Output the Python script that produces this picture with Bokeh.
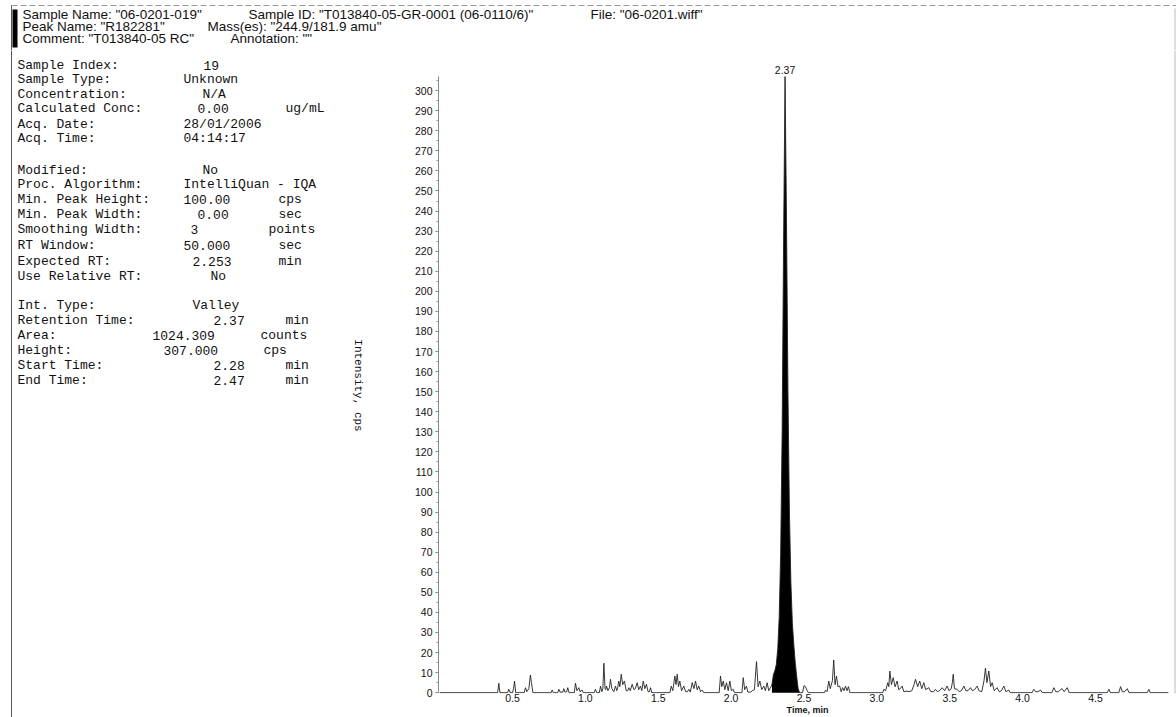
import math

from bokeh.core.properties import value
from bokeh.embed import file_html
from bokeh.layouts import column, row
from bokeh.models import (ColumnDataSource, FixedTicker, Plot, PrintfTickFormatter,
                          Range1d, SingleIntervalTicker, Span)
from bokeh.plotting import figure
from bokeh.resources import INLINE

# ---------------------------------------------------------------- header data
header_line1 = ['Sample Name: "06-0201-019"',
                'Sample ID: "T013840-05-GR-0001 (06-0110/6)"',
                'File: "06-0201.wiff"']
header_line2 = ['Peak Name: "R182281"', 'Mass(es): "244.9/181.9 amu"']
header_line3 = ['Comment: "T013840-05 RC"', 'Annotation: ""']

# ---------------------------------------------------------------- peak result
peak_rt = 2.37          # min
peak_height = 307.0     # cps
peak_area = 1024.309    # counts
start_time = 2.28       # min
end_time = 2.47         # min

# ---------------------------------------------------------------- info block
info_labels = ["Sample Index:", "Sample Type:", "Concentration:", "Calculated Conc:",
               "Acq. Date:", "Acq. Time:",
               "Modified:", "Proc. Algorithm:", "Min. Peak Height:", "Min. Peak Width:",
               "Smoothing Width:", "RT Window:", "Expected RT:", "Use Relative RT:",
               "Int. Type:", "Retention Time:", "Area:", "Height:", "Start Time:", "End Time:"]
info_values = ["19", "Unknown", "N/A", "0.00",
               "28/01/2006", "04:14:17",
               "No", "IntelliQuan - IQA", "100.00", "0.00",
               "3", "50.000", "2.253", "No",
               "Valley", f"{peak_rt:.2f}", f"{peak_area:.3f}", f"{peak_height:.3f}",
               f"{start_time:.2f}", f"{end_time:.2f}"]
info_units = ["", "", "", "ug/mL",
              "", "",
              "", "", "cps", "sec",
              "points", "sec", "min", "",
              "", "min", "counts", "cps", "min", "min"]

# ---------------------------------------------------------------- chromatogram
time_min = [
    0.000, 0.398, 0.406, 0.414, 0.466, 0.475, 0.484, 0.500, 0.507, 0.514, 0.522,
    0.580, 0.589, 0.598, 0.612, 0.623, 0.630, 0.640,
    0.765, 0.772, 0.780, 0.810, 0.818, 0.826, 0.845, 0.852, 0.860, 0.872, 0.879, 0.888,
    0.924, 0.932, 0.942, 0.955, 0.964, 0.978, 0.986,
    1.060, 1.069, 1.078, 1.096, 1.104, 1.113, 1.120, 1.127, 1.135, 1.140, 1.145, 1.155,
    1.165, 1.172, 1.182, 1.195, 1.207, 1.215, 1.222, 1.229, 1.237, 1.246, 1.256, 1.268,
    1.280, 1.290, 1.298, 1.308, 1.321, 1.333, 1.343, 1.355, 1.366, 1.378, 1.387, 1.397,
    1.408, 1.419, 1.430, 1.440, 1.447, 1.456,
    1.580, 1.589, 1.600, 1.614, 1.622, 1.630, 1.639, 1.648, 1.660, 1.675, 1.688, 1.700,
    1.710, 1.720, 1.733, 1.745, 1.756, 1.767, 1.778, 1.790, 1.801, 1.812,
    1.918, 1.927, 1.936, 1.946, 1.957, 1.968, 1.980, 1.991, 2.002, 2.014, 2.024,
    2.074, 2.083, 2.093, 2.105, 2.115, 2.135, 2.145, 2.160, 2.174, 2.185, 2.197, 2.210,
    2.224, 2.235, 2.247, 2.258, 2.270, 2.280,
    2.290, 2.300, 2.310, 2.320, 2.330, 2.340, 2.350, 2.360, peak_rt, 2.380, 2.390,
    2.400, 2.410, 2.420, 2.430, 2.440, 2.450, 2.460, 2.470,
    2.490, 2.500, 2.510, 2.522, 2.530,
    2.640, 2.648, 2.658, 2.670, 2.680, 2.695, 2.704, 2.713, 2.723, 2.733, 2.745, 2.755,
    2.765, 2.775, 2.785, 2.795, 2.805, 2.815,
    3.040, 3.048, 3.060, 3.075, 3.082, 3.089, 3.100, 3.112, 3.125, 3.139, 3.150, 3.160,
    3.173, 3.185, 3.207, 3.220, 3.240, 3.255, 3.265, 3.280, 3.294, 3.308, 3.322, 3.335,
    3.356, 3.370, 3.390, 3.402, 3.415, 3.430, 3.448, 3.465, 3.482, 3.495, 3.510, 3.518,
    3.524, 3.532, 3.551, 3.565, 3.580, 3.597, 3.610, 3.625, 3.642, 3.655, 3.670, 3.688,
    3.700, 3.720, 3.735, 3.745, 3.755, 3.768, 3.780, 3.791, 3.805, 3.825, 3.840, 3.855,
    3.871, 3.885, 3.905, 3.915,
    4.065, 4.077, 4.090, 4.105, 4.123, 4.135, 4.200, 4.214, 4.228, 4.245, 4.260, 4.271,
    4.285, 4.306, 4.320,
    4.580, 4.592, 4.602, 4.660, 4.672, 4.684, 4.700, 4.718, 4.730, 4.855, 4.866, 4.876,
    5.000,
]
intensity_cps = [
    0, 0, 4.7, 0, 0, 1.7, 0, 0, 2.0, 5.8, 0,
    0, 2.5, 0.5, 2.0, 8.8, 5.0, 0,
    0, 1.3, 0, 0, 1.7, 0.3, 0.3, 2.0, 0.3, 0.5, 2.5, 0,
    0, 4.7, 1.0, 2.5, 0.5, 1.3, 0,
    0, 1.7, 0, 0, 3.3, 0.5, 2.0, 14.7, 2.0, 1.5, 3.3, 1.0,
    2.5, 6.7, 2.0, 0.5, 3.3, 1.0, 2.5, 5.8, 3.0, 9.2, 4.0, 5.8,
    1.0, 1.0, 2.5, 1.0, 4.2, 1.5, 2.0, 5.0, 1.5, 3.3, 1.0, 5.8,
    2.0, 4.2, 0.5, 0.5, 2.5, 0,
    0, 3.3, 1.0, 8.3, 4.0, 9.2, 3.0, 5.8, 1.0, 3.3, 0.5, 0.5,
    1.7, 0.3, 5.0, 2.0, 5.8, 1.5, 3.3, 0.5, 1.3, 0,
    0, 8.3, 3.0, 5.8, 1.5, 5.0, 1.0, 5.8, 1.0, 1.7, 0,
    0, 7.5, 1.5, 3.3, 0.3, 0.3, 1.0, 1.5, 15.5, 3.0, 5.8, 1.5,
    3.3, 1.0, 5.0, 1.0, 2.5, 4.0,
    9.0, 11.0, 14.0, 22.0, 38.0, 70.0, 130.0, 225.0, peak_height, 235.0, 150.0,
    90.0, 55.0, 35.0, 24.0, 15.0, 8.0, 2.0, 0,
    0, 3.5, 3.0, 1.0, 0,
    0, 1.3, 0.5, 5.8, 2.0, 6.0, 16.3, 4.0, 8.3, 3.0, 3.3, 0.5,
    2.5, 1.0, 3.3, 1.0, 3.0, 0,
    0, 1.7, 1.0, 5.0, 3.0, 10.8, 4.0, 7.5, 3.0, 5.8, 1.5, 2.0,
    3.3, 0.5, 0.8, 0.5, 1.0, 4.0, 6.7, 3.0, 5.8, 2.0, 5.0, 1.5,
    2.5, 0.5, 0.5, 1.7, 0.5, 1.0, 2.5, 1.0, 3.3, 1.0, 2.0, 5.0,
    9.2, 2.0, 1.7, 0.5, 1.0, 3.3, 1.0, 1.0, 2.5, 1.0, 1.5, 3.3,
    1.0, 0.5, 6.0, 12.2, 5.0, 10.8, 3.0, 5.0, 1.0, 2.5, 0.5, 1.0,
    3.3, 0.5, 1.3, 0,
    0, 1.7, 0.5, 0.5, 1.3, 0, 0, 2.5, 0.5, 0.5, 1.5, 2.0,
    0.5, 2.5, 0,
    0, 1.7, 0, 0, 3.0, 0.5, 0.5, 2.0, 0, 0, 1.7, 0,
    0,
]

x_tick_values = [0.5, 1.0, 1.5, 2.0, 2.5, 3.0, 3.5, 4.0, 4.5]

# ---------------------------------------------------------------- layout constants
PAGE_W, PAGE_H = 1176, 717
HEADER_H = 50
LEFT_W = 400
SANS = "Liberation Sans"
MONO = "Liberation Mono"
INK = "#111111"

header_y = [14, 26, 38]
header_x = [[22, 248, 590], [22, 207], [22, 230]]

info_y = [65, 79, 94, 108, 124, 138, 170, 184, 199, 214, 229, 245, 261, 276,
          305, 320, 335, 350, 365, 380]
info_value_x = [203, 183, 202, 197, 183, 183, 202, 183, 183, 197, 190, 183, 192, 210,
                192, 213, 152, 163, 213, 213]
info_unit_x = [0, 0, 0, 285, 0, 0, 0, 0, 278, 278, 268, 278, 278, 0,
               0, 285, 260, 263, 285, 285]

HAS_FRAME_ALIGN = "frame_align" in Plot.properties()


def unaligned(f):
    # keep each panel's frame where its own borders put it
    if HAS_FRAME_ALIGN:
        f.frame_align = False
    return f


def blank(width, height, x_range, y_range):
    f = figure(width=width, height=height, x_range=x_range, y_range=y_range,
               toolbar_location=None, output_backend="svg", min_border=0,
               x_axis_type=None, y_axis_type=None, outline_line_color=None,
               background_fill_color="white", border_fill_color="white")
    return unaligned(f)


# ---------------------------------------------------------------- header strip
header = blank(PAGE_W, HEADER_H, Range1d(0, PAGE_W), Range1d(HEADER_H, 0))
header.segment(x0=[11], y0=[5], x1=[PAGE_W], y1=[5], line_color="#9a9a9a",
               line_width=1, line_dash="6 3")
header.segment(x0=[11], y0=[5], x1=[11], y1=[HEADER_H], line_color="#555555", line_width=1)
header.segment(x0=[PAGE_W - 1.5], y0=[8], x1=[PAGE_W - 1.5], y1=[HEADER_H],
               line_color="#bbbbbb", line_width=1)
header.quad(left=[12], right=[17], top=[9], bottom=[47], fill_color="black", line_color=None)

hx, hy, ht = [], [], []
for lines, xs, y in zip([header_line1, header_line2, header_line3], header_x, header_y):
    for t, x in zip(lines, xs):
        hx.append(x)
        hy.append(y)
        ht.append(t)
header.text(x=hx, y=hy, text=ht, text_font=value(SANS), text_font_size="13.5px",
            text_color=INK, text_baseline="middle", text_align="left")

# ---------------------------------------------------------------- info panel
left = blank(LEFT_W, PAGE_H - HEADER_H, Range1d(0, LEFT_W), Range1d(PAGE_H, HEADER_H))
left.segment(x0=[11], y0=[HEADER_H], x1=[11], y1=[PAGE_H], line_color="#555555", line_width=1)

left.text(x=[17] * len(info_labels), y=info_y, text=info_labels,
          text_font=value(MONO), text_font_size="13px", text_color=INK,
          text_baseline="middle", text_align="left")
left.text(x=info_value_x, y=info_y, text=info_values,
          text_font=value(MONO), text_font_size="13px", text_color=INK,
          text_baseline="middle", text_align="left")
ux = [x for x, u in zip(info_unit_x, info_units) if u]
uy = [y for y, u in zip(info_y, info_units) if u]
ut = [u for u in info_units if u]
left.text(x=ux, y=uy, text=ut,
          text_font=value(MONO), text_font_size="13px", text_color=INK,
          text_baseline="middle", text_align="left")

left.text(x=[357], y=[385], text=["Intensity, cps"], angle=-math.pi / 2,
          text_font=value(MONO), text_font_size="11px", text_color=INK,
          text_baseline="middle", text_align="center")

# ---------------------------------------------------------------- chromatogram panel
px_per_min = 145.75
frame_left_px = 438
main_w = PAGE_W - LEFT_W
border_left = frame_left_px - LEFT_W
x0 = 0.5 - (512 - frame_left_px) / px_per_min
x1 = x0 + (main_w - border_left) / px_per_min

main = figure(width=main_w, height=PAGE_H - HEADER_H,
              x_range=Range1d(x0, x1), y_range=Range1d(-0.4, 320.0),
              toolbar_location=None, output_backend="svg",
              min_border_left=border_left, min_border_right=0,
              min_border_top=0, min_border_bottom=24,
              outline_line_color=None, background_fill_color="white",
              border_fill_color="white")
unaligned(main)
main.grid.visible = False

src = ColumnDataSource(dict(t=time_min, y=intensity_cps))
fill_t = [t for t in time_min if start_time <= t <= end_time]
fill_y = [y for t, y in zip(time_min, intensity_cps) if start_time <= t <= end_time]
main.varea(x=fill_t, y1=[0] * len(fill_t), y2=fill_y, fill_color="black")
main.line(x="t", y="y", source=src, line_color="#222222", line_width=0.9)

main.text(x=[peak_rt], y=[peak_height], text=[f"{peak_rt:.2f}"],
          text_font=value(SANS), text_font_size="10.5px", text_color=INK,
          text_align="center", text_baseline="bottom", y_offset=-3)

main.add_layout(Span(location=x1 - 0.01, dimension="height",
                     line_color="#bbbbbb", line_width=1))

xa = main.xaxis[0]
xa.ticker = FixedTicker(ticks=x_tick_values)
xa.formatter = PrintfTickFormatter(format="%.1f")
xa.axis_line_color = None
xa.major_tick_line_color = None
xa.minor_tick_line_color = None
xa.major_tick_out = 0
xa.major_tick_in = 0
xa.minor_tick_out = 0
xa.major_label_standoff = 0
xa.major_label_text_font = SANS
xa.major_label_text_font_size = "10.5px"
xa.major_label_text_color = INK
xa.axis_label = "Time, min"
xa.axis_label_text_font = SANS
xa.axis_label_text_font_size = "9px"
xa.axis_label_text_font_style = "bold"
xa.axis_label_text_color = INK
xa.axis_label_standoff = 0

ya = main.yaxis[0]
ya.ticker = SingleIntervalTicker(interval=10, num_minor_ticks=2)
ya.bounds = (0, peak_height)
ya.axis_line_color = "#888888"
ya.axis_line_width = 1
ya.major_tick_line_color = "#666666"
ya.major_tick_out = 3
ya.major_tick_in = 0
ya.minor_tick_line_color = "#999999"
ya.minor_tick_out = 2
ya.minor_tick_in = 0
ya.major_label_standoff = 3
ya.major_label_text_font = SANS
ya.major_label_text_font_size = "10.5px"
ya.major_label_text_color = INK

layout = column(header, row(left, main, spacing=0), spacing=0)

with open("out.html", "w") as fh:
    fh.write(file_html(layout, INLINE))
